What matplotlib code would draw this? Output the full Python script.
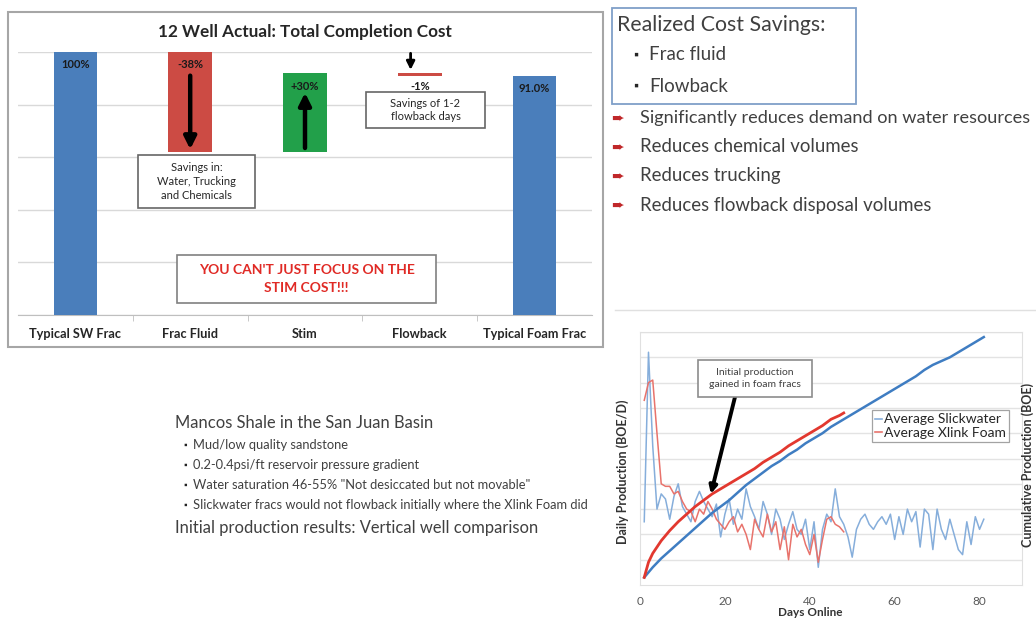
import matplotlib
matplotlib.use("Agg")
import matplotlib.pyplot as plt
from matplotlib.patches import Rectangle
from matplotlib.lines import Line2D

plt.rcParams['font.family'] = ['Lato', 'DejaVu Sans']

W, H = 1036, 619

# ---------------- waterfall data ----------------
cost_categories = ["Typical SW Frac", "Frac Fluid", "Stim", "Flowback", "Typical Foam Frac"]
cost_changes = [100, -38, 30, -1, 91]
cost_labels = ["100%", "-38%", "+30%", "-1%", "91.0%"]
cost_kinds = ["total", "delta", "delta", "delta", "total"]

# ---------------- production data ----------------
sw_days = list(range(1, 82))
sw_daily = [25, 92, 55, 30, 36, 34, 26, 35, 40, 31,
            28, 25, 33, 37, 33, 30, 27, 32, 19, 28,
            34, 24, 30, 26, 38, 31, 27, 22, 33, 28,
            20, 30, 26, 18, 24, 29, 22, 20, 26, 14,
            25, 7, 22, 28, 25, 38, 27, 24, 19, 11,
            22, 26, 28, 24, 22, 25, 27, 24, 28, 18,
            27, 20, 30, 25, 29, 15, 30, 28, 14, 30,
            22, 18, 26, 20, 14, 12, 25, 16, 27, 22, 26]
foam_days = list(range(1, 49))
foam_daily = [73, 80, 81, 60, 40, 39, 39, 36, 37, 33,
              30, 29, 25, 30, 28, 33, 30, 26, 24, 22,
              25, 27, 21, 24, 20, 14, 26, 22, 19, 28,
              21, 25, 14, 23, 10, 24, 19, 22, 16, 12,
              20, 9, 18, 26, 27, 24, 23, 21]
sw_cum_days = [1, 3, 5, 7, 9, 11, 13, 15, 17, 19, 21, 23, 25, 27, 29, 31, 33, 35, 37, 39,
               41, 43, 45, 47, 49, 51, 53, 55, 57, 59, 61, 63, 65, 67, 69, 71, 73, 75, 77, 79, 81]
sw_cum = [3, 7, 10.5, 13.5, 16.5, 19.5, 22.5, 25.5, 28.5, 31, 33.5, 36.5, 39.5, 42, 44.5,
          47, 49, 51.5, 53.5, 56, 58, 60, 62.5, 64.5, 66.5, 68.5, 70.5, 72.5, 74.5, 76.5,
          78.5, 80.5, 82.5, 85, 87, 88.5, 90, 92, 94, 96, 98]
foam_cum_days = [1, 2, 3, 4, 5, 7, 9, 11, 13, 15, 17, 19, 21, 23, 25, 27, 29, 31, 33, 35,
                 37, 39, 41, 43, 45, 47, 48]
foam_cum = [3, 9, 12.5, 15, 17.5, 21.5, 25, 28, 31, 33.5, 36, 38, 40, 42, 44, 46, 48.5,
            50.5, 52.5, 55, 57, 59, 61, 63, 65.5, 67, 68]
prod_xticks = [0, 20, 40, 60, 80]
series_names = ["Average Slickwater", "Average Xlink Foam"]

TXT = '#404040'

fig = plt.figure(figsize=(W / 100, H / 100), dpi=100)
fig.patch.set_facecolor('white')


def fa(x0, y0, x1, y1):
    """pixel box (top-left origin) -> figure fraction rect"""
    return [x0 / W, 1 - y1 / H, (x1 - x0) / W, (y1 - y0) / H]


# ================= waterfall chart =================
ax1 = fig.add_axes(fa(18, 52, 592, 315))
bottoms, heights, colors = [], [], []
running = 0
for val, kind in zip(cost_changes, cost_kinds):
    if kind == "total":
        bottoms.append(0); heights.append(val); colors.append('#4A7EBB'); running = val
    else:
        if val < 0:
            bottoms.append(running + val); heights.append(-val); colors.append('#CC4B44')
        else:
            bottoms.append(running); heights.append(val); colors.append('#22A04A')
        running += val
xs = list(range(len(cost_categories)))
ax1.bar(xs, heights, bottom=bottoms, width=0.38, color=colors, zorder=3)
for x, b, h, lab in zip(xs, bottoms, heights, cost_labels):
    ax1.annotate(lab, xy=(x, b + h), xytext=(0, -13), textcoords='offset pixels',
                 ha='center', va='center', fontsize=8, fontweight='bold', color='#1a1a1a',
                 zorder=5)
ax1.set_xlim(-0.5, 4.5)
ax1.set_ylim(0, 100)
ax1.set_yticks([0, 20, 40, 60, 80, 100])
ax1.yaxis.grid(True, color='#D9D9D9', lw=1)
ax1.set_axisbelow(True)
ax1.tick_params(axis='y', length=0, labelleft=False)
ax1.set_xticks(xs)
ax1.set_xticklabels(cost_categories, fontsize=9.2, fontweight='bold', color='#262626')
ax1.set_xticks([0.5, 1.5, 2.5, 3.5], minor=True)
ax1.tick_params(axis='x', which='major', length=0, pad=9)
ax1.tick_params(axis='x', which='minor', length=4, color='#BFBFBF')
for s in ['top', 'right', 'left']:
    ax1.spines[s].set_visible(False)
ax1.spines['bottom'].set_color('#BFBFBF')
# arrows inside bars
arr = dict(arrowstyle='-|>', lw=3.2, color='black', mutation_scale=18, shrinkA=0, shrinkB=0)
ax1.annotate('', xy=(1, 63), xytext=(1, 91), arrowprops=arr, zorder=6)
ax1.annotate('', xy=(2, 84.5), xytext=(2, 63.5), arrowprops=arr, zorder=6)
ax1.annotate('', xy=(2.92, 93.2), xytext=(2.92, 99.5),
             arrowprops=dict(arrowstyle='-|>', lw=2.0, color='black', mutation_scale=12,
                             shrinkA=0, shrinkB=0), zorder=6)

# ================= production chart =================
ax2 = fig.add_axes(fa(640, 332, 1022, 585))
ax2.plot(sw_days, sw_daily, color='#86AEDB', lw=1.1, zorder=3)
ax2.plot(foam_days, foam_daily, color='#E8736C', lw=1.1, zorder=3)
ax2.set_xlim(0, 90)
ax2.set_ylim(0, 100)
ax2.set_xticks(prod_xticks)
ax2.set_xticklabels([str(t) for t in prod_xticks], fontsize=8.5, color='#595959')
ax2.set_yticks(range(10, 101, 10))
ax2.yaxis.grid(True, color='#E3E3E3', lw=1)
ax2.set_axisbelow(True)
ax2.tick_params(length=0, labelleft=False, pad=8)
for s in ax2.spines.values():
    s.set_color('#E0E0E0')
ax2r = ax2.twinx()
ax2r.plot(sw_cum_days, sw_cum, color='#3F7DC2', lw=1.8, zorder=4)
ax2r.plot(foam_cum_days, foam_cum, color='#E2382F', lw=2.0, zorder=4)
ax2r.set_ylim(0, 100)
ax2r.set_yticks([])
for s in ax2r.spines.values():
    s.set_visible(False)
handles = [Line2D([], [], color='#86AEDB', lw=1.2), Line2D([], [], color='#E8736C', lw=1.2)]
leg = ax2r.legend(handles, series_names, loc='upper left',
                  bbox_to_anchor=(872 / W, 1 - 410 / H), bbox_transform=fig.transFigure,
                  fontsize=10, frameon=True, fancybox=False, borderpad=0.25,
                  handlelength=0.45, handletextpad=0.15, labelspacing=0.08, borderaxespad=0)
leg.get_frame().set_edgecolor('#8C8C8C')
leg.get_frame().set_linewidth(0.9)
for t in leg.get_texts():
    t.set_color('#262626')
ax2r.annotate('', xy=(16.7, 36), xytext=(735, H - 397), textcoords='figure pixels',
              arrowprops=dict(arrowstyle='-|>', lw=2.8, color='black', mutation_scale=11,
                              shrinkA=0, shrinkB=0), zorder=6)

# ================= overlay (pixel coords) =================
ov = fig.add_axes([0, 0, 1, 1], zorder=10)
ov.set_xlim(0, W)
ov.set_ylim(H, 0)
ov.axis('off')
ov.patch.set_alpha(0)


def boxed_text(x0, y0, x1, y1, text, ec, **kw):
    ov.add_patch(Rectangle((x0, y0), x1 - x0, y1 - y0, fc='white', ec=ec, lw=1.2))
    ov.text((x0 + x1) / 2, (y0 + y1) / 2, text, ha='center', va='center', **kw)


# production annotation box
boxed_text(698, 360, 812, 397, 'Initial production\ngained in foam fracs', '#8C8C8C',
           fontsize=7.5, color=TXT, linespacing=1.3)

# waterfall frame + title
ov.add_patch(Rectangle((8, 12), 595, 335, fill=False, ec='#A6A6A6', lw=1.5))
ov.text(305, 32, '12 Well Actual: Total Completion Cost', ha='center', va='center',
        fontsize=12.3, fontweight='bold', color='#262626')
boxed_text(138, 155, 255, 208, 'Savings in:\nWater, Trucking\nand Chemicals', '#666666',
           fontsize=8, color='#262626', linespacing=1.35)
boxed_text(366, 92, 485, 128, 'Savings of 1-2\nflowback days', '#666666',
           fontsize=8, color='#262626', linespacing=1.3)
boxed_text(177, 255, 436, 303, "YOU CAN'T JUST FOCUS ON THE\nSTIM COST!!!", '#808080',
           fontsize=10, fontweight='bold', color='#E02A25', linespacing=1.5)

# right-top text
ov.add_patch(Rectangle((612, 8), 244, 96, fill=False, ec='#7F9FC8', lw=1.3))
ov.text(617, 25, 'Realized Cost Savings:', ha='left', va='center', fontsize=15.3, color=TXT)
for y, s in [(55, 'Frac fluid'), (86, 'Flowback')]:
    ov.text(633, y, '▪', ha='left', va='center', fontsize=9, color='#262626')
    ov.text(649, y, s, ha='left', va='center', fontsize=13.5, color=TXT)
for y, s, fs in [(118, 'Significantly reduces demand on water resources', 13.1),
                 (147, 'Reduces chemical volumes', 13.4),
                 (176, 'Reduces trucking', 13.4),
                 (205, 'Reduces flowback disposal volumes', 13.4)]:
    ov.text(611, y, '➨', ha='left', va='center', fontsize=11, color='#C0282A',
            family='DejaVu Sans')
    ov.text(640, y, s, ha='left', va='center', fontsize=fs, color=TXT)

# bottom-left text
ov.text(175, 423, 'Mancos Shale in the San Juan Basin', ha='left', va='center',
        fontsize=11.9, color=TXT)
for y, s in [(445, 'Mud/low quality sandstone'),
             (465, '0.2-0.4psi/ft reservoir pressure gradient'),
             (485, 'Water saturation 46-55% "Not desiccated but not movable"'),
             (505, 'Slickwater fracs would not flowback initially where the Xlink Foam did')]:
    ov.text(183, y, '▪', ha='left', va='center', fontsize=6.5, color='#262626')
    ov.text(193, y, s, ha='left', va='center', fontsize=9.3, color=TXT)
ov.text(175, 528, 'Initial production results: Vertical well comparison', ha='left',
        va='center', fontsize=11.9, color=TXT)

# production chart frame bits and axis titles
ov.plot([615, 1036], [310, 310], color='#E0E0E0', lw=1)
ov.text(623, 472, 'Daily Production (BOE/D)', rotation=90, ha='center', va='center',
        fontsize=9, fontweight='bold', color='#333333')
ov.text(1028, 465, 'Cumulative Production (BOE)', rotation=90, ha='center', va='center',
        fontsize=9, fontweight='bold', color='#333333')
ov.text(810, 612, 'Days Online', ha='center', va='center', fontsize=8.5,
        fontweight='bold', color='#333333')

fig.savefig('out.png', dpi=100)
